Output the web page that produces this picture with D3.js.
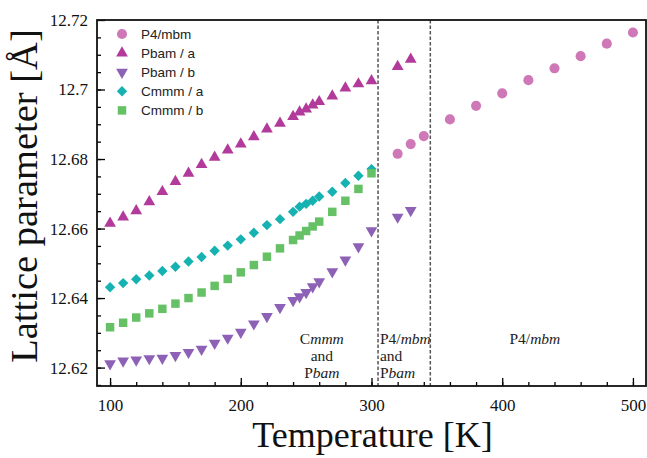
<!DOCTYPE html>
<html>
<head>
<meta charset="utf-8">
<script src="https://cdn.jsdelivr.net/npm/d3@7"></script>
<style>
  body { margin: 0; background: #fff; }
  svg { display: block; }
</style>
</head>
<body>
<div id="chart"></div>
<script>
// Data
const tempLow = [100, 110, 120, 130, 140, 150, 160, 170, 180, 190, 200, 210, 220, 230, 240,
                 245, 250, 255, 260, 270, 280, 290, 300];

const p4mbmT = [320, 330, 340, 360, 380, 400, 420, 440, 460, 480, 500];
const p4mbm = [12.6815, 12.6843, 12.6866, 12.6914, 12.6953, 12.6989, 12.7027, 12.7061, 12.7096, 12.7132, 12.7164];

const pbamT = tempLow.concat([320, 330]);
const pbamA = [12.6615, 12.6633, 12.6651, 12.6677, 12.6706, 12.6735, 12.6759, 12.6784, 12.6805, 12.6826,
               12.6843, 12.6864, 12.6886, 12.6903, 12.6922, 12.6935, 12.6944, 12.6955, 12.6965, 12.6981,
               12.7004, 12.7016, 12.7025, 12.7066, 12.7087];
const pbamB = [12.6211, 12.6219, 12.6222, 12.6226, 12.6227, 12.6235, 12.6244, 12.6253, 12.6270, 12.6285,
               12.6302, 12.6326, 12.6347, 12.6373, 12.6393, 12.6404, 12.6416, 12.6433, 12.6447, 12.6476,
               12.6510, 12.6548, 12.6594, 12.6633, 12.6652];

const cmmmT = tempLow;
const cmmmA = [12.6431, 12.6443, 12.6454, 12.6465, 12.6478, 12.6490, 12.6505, 12.6518, 12.6536, 12.6551,
               12.6569, 12.6588, 12.6610, 12.6627, 12.6648, 12.6663, 12.6671, 12.6680, 12.6692, 12.6706,
               12.6731, 12.6752, 12.6771];
const cmmmB = [12.6316, 12.6329, 12.6344, 12.6356, 12.6369, 12.6384, 12.6400, 12.6416, 12.6435, 12.6455,
               12.6474, 12.6495, 12.6519, 12.6543, 12.6567, 12.6580, 12.6593, 12.6606, 12.6620, 12.6648,
               12.6680, 12.6714, 12.6759];

const xTicks = [100, 200, 300, 400, 500];
const xMinor = [100, 120, 140, 160, 180, 200, 220, 240, 260, 280, 300, 320, 340, 360, 380, 400, 420, 440, 460, 480, 500];
const yTicks = [12.62, 12.64, 12.66, 12.68, 12.7, 12.72];
const yMinor = [12.615, 12.62, 12.625, 12.63, 12.635, 12.64, 12.645, 12.65, 12.655, 12.66, 12.665,
                12.67, 12.675, 12.68, 12.685, 12.69, 12.695, 12.7, 12.705, 12.71, 12.715];
const phaseBounds = [305, 345];

// Global const
const W = 647, H = 458;
const margin = {top: 20, right: 1, bottom: 72, left: 97};
const w = W - margin.left - margin.right;
const h = H - margin.top - margin.bottom;

const svg = d3.select("#chart").append("svg")
    .attr("width", W)
    .attr("height", H);

const g = svg.append("g")
    .attr("transform", "translate(" + margin.left + "," + margin.top + ")");

const x = d3.scaleLinear().domain([90, 510]).range([0, w]);
const y = d3.scaleLinear().domain([12.6147, 12.72]).range([h, 0]);

const serif = "'Liberation Serif', 'DejaVu Serif', serif";
const sans = "'Liberation Sans', Arial, sans-serif";

// Series
const series = [
  {name: "P4/mbm",   t: p4mbmT, v: p4mbm, color: "#cf78b7", type: d3.symbolCircle,   size: 80, rot: 0},
  {name: "Pbam / a", t: pbamT,  v: pbamA, color: "#b23a9b", type: d3.symbolTriangle, size: 60, rot: 0},
  {name: "Pbam / b", t: pbamT,  v: pbamB, color: "#8d62b6", type: d3.symbolTriangle, size: 60, rot: 180},
  {name: "Cmmm / a", t: cmmmT,  v: cmmmA, color: "#16b2b2", type: d3.symbolSquare,   size: 54, rot: 45},
  {name: "Cmmm / b", t: cmmmT,  v: cmmmB, color: "#66c166", type: d3.symbolSquare,   size: 72, rot: 0}
];

// Phase boundaries
g.selectAll(".bound")
  .data(phaseBounds)
  .enter()
  .append("line")
    .attr("x1", d => x(d)).attr("x2", d => x(d))
    .attr("y1", 0).attr("y2", h)
    .attr("stroke", "#555")
    .attr("stroke-width", 1.5)
    .attr("stroke-dasharray", "3.5,2");

// Points
series.forEach(s => {
  g.append("g").selectAll("path")
    .data(s.t.map((t, i) => ({t: t, v: s.v[i]})))
    .enter()
    .append("path")
      .attr("d", d3.symbol().type(s.type).size(s.size))
      .attr("transform", d => "translate(" + x(d.t) + "," + y(d.v) + ") rotate(" + s.rot + ")")
      .attr("fill", s.color);
});

// X axis, ticks pointing in
g.append("g")
    .attr("transform", "translate(0," + h + ")")
    .call(d3.axisBottom(x).tickValues(xTicks).tickSize(-8).tickPadding(13).tickFormat(d3.format("d")));
g.append("g")
    .attr("transform", "translate(0," + h + ")")
    .call(d3.axisBottom(x).tickValues(xMinor).tickSize(-4).tickFormat(""));

// Y axis
g.append("g")
    .call(d3.axisLeft(y).tickValues(yTicks).tickSize(-8).tickPadding(9).tickFormat(d => String(+d.toFixed(2))));
g.append("g")
    .call(d3.axisLeft(y).tickValues(yMinor).tickSize(-4).tickFormat(""));

g.selectAll(".domain").remove();
g.selectAll(".tick line").attr("stroke", "#000").attr("stroke-width", 1.3);
g.selectAll(".tick text")
    .attr("font-family", serif)
    .attr("font-size", "17px")
    .attr("fill", "#111");

// Frame
g.append("rect")
    .attr("width", w).attr("height", h)
    .attr("fill", "none")
    .attr("stroke", "#111")
    .attr("stroke-width", 1.8);

// Axis titles
svg.append("text")
    .attr("x", margin.left + x(300) + 1)
    .attr("y", 447)
    .attr("text-anchor", "middle")
    .attr("font-family", serif)
    .attr("font-size", "36px")
    .attr("fill", "#111")
    .text("Temperature [K]");

svg.append("text")
    .attr("transform", "translate(37,196) rotate(-90)")
    .attr("text-anchor", "middle")
    .attr("font-family", serif)
    .attr("font-size", "38.5px")
    .attr("fill", "#111")
    .text("Lattice parameter [Å]");

// Legend
const legend = svg.append("g").attr("transform", "translate(122,34)");
series.forEach((s, i) => {
  const row = legend.append("g").attr("transform", "translate(0," + (i * 19.1) + ")");
  row.append("path")
    .attr("d", d3.symbol().type(s.type).size(s.size))
    .attr("transform", "rotate(" + s.rot + ")")
    .attr("fill", s.color);
  row.append("text")
    .attr("x", 19)
    .attr("dy", "0.36em")
    .attr("font-family", sans)
    .attr("font-size", "13.5px")
    .attr("fill", "#222")
    .text(s.name);
});

// Phase annotations
function phaseLabel(xp, anchor, lines) {
  const t = g.append("text")
      .attr("font-family", serif)
      .attr("font-size", "15.5px")
      .attr("fill", "#222")
      .attr("text-anchor", anchor);
  lines.forEach((ln, i) => {
    const ts = t.append("tspan").attr("x", xp).attr("y", 324 + i * 17);
    ln.forEach(part => {
      ts.append("tspan").attr("font-style", part[1] ? "italic" : "normal").text(part[0]);
    });
  });
}
phaseLabel(x(262), "middle", [[["C", 0], ["mmm", 1]], [["and", 0]], [["P", 0], ["bam", 1]]]);
phaseLabel(x(306.5), "start", [[["P4/", 0], ["mbm", 1]], [["and", 0]], [["P", 0], ["bam", 1]]]);
phaseLabel(x(425), "middle", [[["P4/", 0], ["mbm", 1]]]);
</script>
</body>
</html>
